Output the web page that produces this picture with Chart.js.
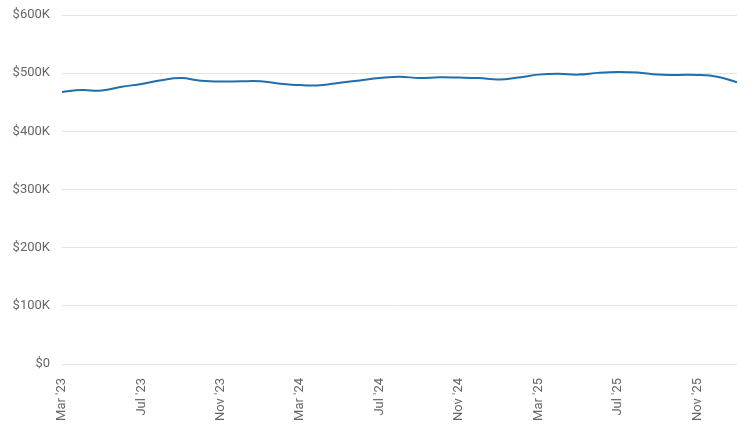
<!DOCTYPE html>
<html>
<head>
<meta charset="utf-8">
<script src="https://cdn.jsdelivr.net/npm/chart.js@4/dist/chart.umd.min.js"></script>
<style>
  html, body { margin: 0; padding: 0; background: #fff; }
  #wrap { width: 755px; height: 424px; }
</style>
</head>
<body>
<div id="wrap"><canvas id="chart"></canvas></div>
<script>
const months = [
    "Mar '23", "Apr '23", "May '23", "Jun '23", "Jul '23", "Aug '23", "Sep '23", "Oct '23", "Nov '23", "Dec '23",
    "Jan '24", "Feb '24", "Mar '24", "Apr '24", "May '24", "Jun '24", "Jul '24", "Aug '24", "Sep '24", "Oct '24",
    "Nov '24", "Dec '24", "Jan '25", "Feb '25", "Mar '25", "Apr '25", "May '25", "Jun '25", "Jul '25", "Aug '25",
    "Sep '25", "Oct '25", "Nov '25", "Dec '25", "Jan '26"
];
// median price, in dollars
const prices = [
    467800, 471000, 470000, 476500, 481500, 488000, 491500, 487000, 485500, 486000,
    486000, 482000, 479500, 479300, 483500, 487500, 491500, 494000, 491500, 493000,
    492500, 491500, 489000, 492500, 497500, 499000, 497500, 500500, 502000, 501000,
    497500, 497000, 497000, 494000, 484500
];
const yTicks = [0, 100000, 200000, 300000, 400000, 500000, 600000];

const ctx = document.getElementById('chart').getContext('2d');
new Chart(ctx, {
    type: 'line',
    data: {
        labels: months,
        datasets: [{
            data: prices,
            borderColor: '#1f6fad',
            borderWidth: 2,
            pointRadius: 0,
            tension: 0.4,
            fill: false
        }]
    },
    options: {
        responsive: true,
        maintainAspectRatio: false,
        animation: false,
        layout: { padding: { top: 15, right: 18, left: 0, bottom: 0 } },
        plugins: { legend: { display: false }, tooltip: { enabled: false } },
        scales: {
            x: {
                afterFit: (axis) => { axis.height = 60; axis.paddingLeft = 0; axis.paddingRight = 0; },
                grid: { display: false },
                border: { display: false },
                ticks: {
                    autoSkip: false,
                    maxRotation: 90,
                    minRotation: 90,
                    padding: 6,
                    color: '#666',
                    font: { family: 'Roboto', size: 13 },
                    callback: (v, i) => (i % 4 === 0 ? months[i] : '')
                }
            },
            y: {
                min: 0,
                max: 600000,
                afterBuildTicks: (axis) => { axis.ticks = yTicks.map((v) => ({ value: v })); },
                afterFit: (axis) => { axis.width = 62; axis.paddingTop = 0; axis.paddingBottom = 0; },
                grid: { color: '#e4e4e4', drawTicks: false },
                border: { display: false },
                ticks: {
                    padding: 12,
                    color: '#666',
                    font: { family: 'Roboto', size: 13 },
                    callback: (v) => '$' + (v === 0 ? '0' : (v / 1000) + 'K')
                }
            }
        }
    }
});
</script>
</body>
</html>
